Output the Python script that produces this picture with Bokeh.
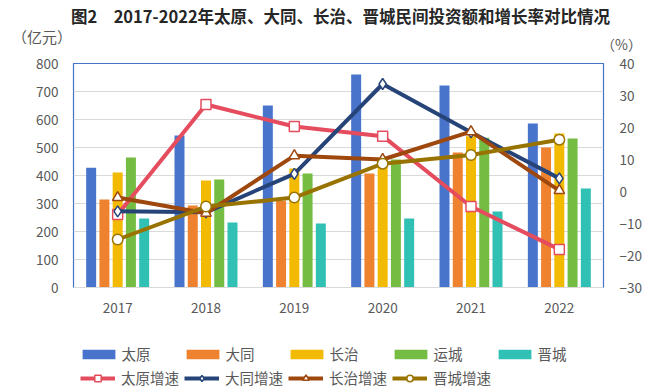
from bokeh.plotting import figure
from bokeh.layouts import column
from bokeh.models import (ColumnDataSource, FactorRange, Range1d, LinearAxis,
                          FixedTicker, Legend, LegendItem)
from bokeh.transform import dodge
from bokeh.core.properties import value
from bokeh.embed import file_html
from bokeh.resources import INLINE

years = ["2017", "2018", "2019", "2020", "2021", "2022"]
taiyuan = [428, 543, 650, 761, 721, 586]
datong = [314, 293, 310, 407, 482, 500]
changzhi = [411, 382, 425, 460, 540, 550]
yuncheng = [464, 386, 407, 457, 535, 532]
jincheng = [246, 232, 229, 246, 271, 354]

taiyuan_rate = [-7.2, 27.2, 20.3, 17.3, -4.7, -18.1]
datong_rate = [-6.2, -6.5, 5.5, 33.6, 18.5, 4.1]
changzhi_rate = [-1.9, -6.8, 11.2, 10.0, 18.7, 0.3]
jincheng_rate = [-15.0, -4.7, -1.9, 8.7, 11.4, 16.2]

bar_names = ["太原", "大同", "长治", "运城", "晋城"]
rate_names = ["太原增速", "大同增速", "长治增速", "晋城增速"]
left_ticks = [0, 100, 200, 300, 400, 500, 600, 700, 800]
right_ticks = [-30, -20, -10, 0, 10, 20, 30, 40]
title_text = "图2　2017-2022年太原、大同、长治、晋城民间投资额和增长率对比情况"
left_unit = "（亿元）"
right_unit = "（%）"

FONT = "Noto Sans CJK SC"
TXT = "#595959"
W = 647
HEAD_H = 52
FOOT_H = 61
MAIN_H = 391 - HEAD_H - FOOT_H

bar_cols = ["taiyuan", "datong", "changzhi", "yuncheng", "jincheng"]
bar_colors = ["#4874CB", "#EE822F", "#F2BA02", "#75BD42", "#30C0B4"]
offsets = [-0.3, -0.15, 0.0, 0.15, 0.3]
rate_cols = ["taiyuan_rate", "datong_rate", "changzhi_rate", "jincheng_rate"]
rate_colors = ["#E54C5E", "#264478", "#9E480E", "#997300"]
markers = ["square", "diamond", "triangle", "circle"]
msizes = [10, 11, 10.5, 10.5]

# ---------- header (title and unit captions) ----------
head = figure(width=W, height=HEAD_H, x_range=Range1d(0, W), y_range=Range1d(HEAD_H, 0),
              output_backend="svg", toolbar_location=None, min_border=0,
              x_axis_type=None, y_axis_type=None, outline_line_color=None,
              frame_align=False)
head.grid.visible = False
head.text(x=[340], y=[15], text=[title_text], text_align="center", text_baseline="middle",
          text_font=value(FONT), text_font_size="16.5px", text_font_style="bold",
          text_color="#262626")
head.text(x=[41.5], y=[36], text=[left_unit], text_align="center", text_baseline="middle",
          text_font=value(FONT), text_font_size="15px", text_color=TXT)
head.text(x=[621], y=[43], text=[right_unit], text_align="center", text_baseline="middle",
          text_font=value(FONT), text_font_size="14px", text_color=TXT)

# ---------- main chart ----------
src = ColumnDataSource(dict(
    year=years, taiyuan=taiyuan, datong=datong, changzhi=changzhi,
    yuncheng=yuncheng, jincheng=jincheng,
    taiyuan_rate=taiyuan_rate, datong_rate=datong_rate,
    changzhi_rate=changzhi_rate, jincheng_rate=jincheng_rate))

p = figure(x_range=FactorRange(*years), y_range=Range1d(0, 800),
           width=W, height=MAIN_H, output_backend="svg", toolbar_location=None,
           min_border_left=73, min_border_right=44, min_border_top=63 - HEAD_H,
           min_border_bottom=MAIN_H - (287 - HEAD_H))
p.extra_y_ranges = {"rate": Range1d(-30, 40)}

p.outline_line_color = "#4472C4"
p.outline_line_width = 1.2
p.xgrid.grid_line_color = None
p.ygrid.grid_line_color = "#D9D9D9"
p.ygrid.ticker = FixedTicker(ticks=left_ticks)

p.yaxis.ticker = FixedTicker(ticks=left_ticks)
right = LinearAxis(y_range_name="rate", ticker=FixedTicker(ticks=right_ticks))
p.add_layout(right, "right")

for ax, so in [(p.yaxis[0], 9), (right, 10)]:
    ax.axis_line_color = None
    ax.major_tick_line_color = None
    ax.minor_tick_line_color = None
    ax.major_label_standoff = so
    ax.major_label_text_font = FONT
    ax.major_label_text_font_size = "13.5px"
    ax.major_label_text_color = TXT

xa = p.xaxis[0]
xa.axis_line_color = "#D9D9D9"
xa.major_tick_line_color = None
xa.minor_tick_line_color = None
xa.major_label_standoff = 9
xa.major_label_text_font = FONT
xa.major_label_text_font_size = "13.5px"
xa.major_label_text_color = TXT

for col, c, off in zip(bar_cols, bar_colors, offsets):
    p.vbar(x=dodge("year", off, range=p.x_range), top=col, width=0.113,
           source=src, fill_color=c, line_color=None)

for col, c, m, ms in zip(rate_cols, rate_colors, markers, msizes):
    p.line(x="year", y=col, y_range_name="rate", source=src,
           line_color=c, line_width=4)
    p.scatter(x="year", y=col, y_range_name="rate", source=src, marker=m,
              size=ms, fill_color="white", line_color=c, line_width=1.5)

# ---------- footer legend (frame aligned with the chart) ----------
foot = figure(width=W, height=FOOT_H, x_range=Range1d(0, W), y_range=Range1d(0, FOOT_H),
              output_backend="svg", toolbar_location=None, min_border=0,
              x_axis_type=None, y_axis_type=None, outline_line_color=None)
foot.grid.visible = False
nan = float("nan")
blank = ColumnDataSource(dict(x=[nan], y=[nan]))
bar_items = []
for c, nm in zip(bar_colors, bar_names):
    r = foot.vbar(x="x", top="y", width=1, source=blank, fill_color=c, line_color=None)
    bar_items.append(LegendItem(label=nm, renderers=[r]))
rate_items = []
for c, m, ms, nm in zip(rate_colors, markers, msizes, rate_names):
    l = foot.line(x="x", y="y", source=blank, line_color=c, line_width=4)
    s = foot.scatter(x="x", y="y", source=blank, marker=m, size=ms,
                     fill_color="white", line_color=c, line_width=1.5)
    rate_items.append(LegendItem(label=nm, renderers=[l, s]))

common = dict(orientation="horizontal", spacing=0, padding=0, margin=0,
              border_line_color=None, background_fill_alpha=0,
              label_text_font=FONT, label_text_font_size="14.5px",
              label_text_color=TXT, label_text_baseline="middle")
leg1 = Legend(items=bar_items, location=(4.6, 27), glyph_width=41, glyph_height=12,
              label_height=12, label_standoff=3, label_width=60, **common)
leg2 = Legend(items=rate_items, location=(7, 3), glyph_width=35, glyph_height=16,
              label_height=16, label_standoff=6, label_width=63, **common)
foot.add_layout(leg1, "center")
foot.add_layout(leg2, "center")

layout = column(head, p, foot, spacing=0)
open("out.html", "w").write(file_html(layout, INLINE))
